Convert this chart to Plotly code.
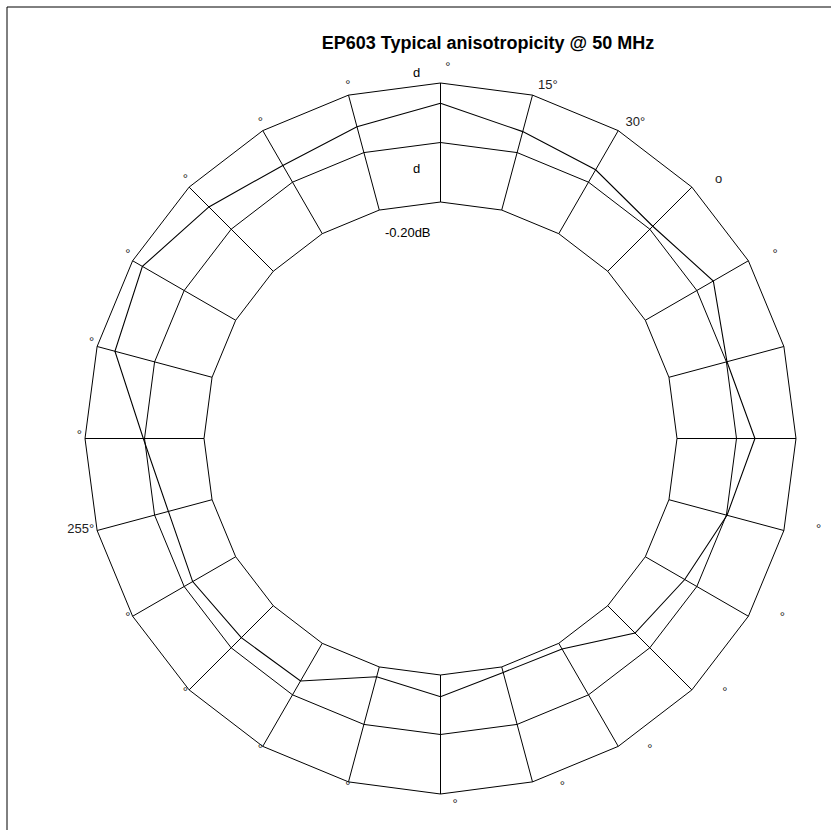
import plotly.graph_objects as go

# Measurement angles (deg, clockwise from top) and relative level in dB
angles = list(range(0, 360, 15))
level_db = [-0.034, -0.0635, -0.076, -0.093, -0.068, -0.099, -0.069, -0.099,
            -0.1235, -0.135, -0.189, -0.1905, -0.1635, -0.183, -0.127, -0.124,
            -0.1165, -0.124, -0.098, -0.031, -0.019, -0.047, -0.0675, -0.055]

# Angular labels; most print only the degree sign, figure spaces keep
# the width of the missing digits
FS = "\u2007"
angle_labels = [FS + "°", "15°", "30°", FS + FS + "o", FS + FS + "°", "", "",
                FS * 3 + "°", FS * 3 + "°", FS * 3 + "°", FS * 3 + "°",
                FS * 3 + "°", FS * 3 + "°", "°", "°", "°", "°",
                "255°", "°", "°", "°", "°", "°", "°"]

# Radial grid levels and their labels
radial_ticks = [-0.2, -0.1, 0.0]
radial_labels = ["-0.20dB", "d", "d"]

FONT = "Liberation Sans, Arial, sans-serif"
W, H = 838, 830

cats = [str(a) for a in angles]


def label_anchor(a):
    """Text anchoring of an angle label around its ring point."""
    if a == 0:
        return "top center"
    if a == 180:
        return "bottom center"
    return "middle right" if a < 180 else "middle left"


label_positions = [label_anchor(a) for a in angles]


def px_domain(cx, cy, rad):
    """Paper-space domain of a square polar area centred at (cx, cy) px."""
    return dict(x=[(cx - rad) / W, (cx + rad) / W],
                y=[1 - (cy + rad) / H, 1 - (cy - rad) / H])


fig = go.Figure()
fig.add_trace(go.Scatterpolar(
    r=level_db + level_db[:1],
    theta=cats + cats[:1],
    mode="lines",
    line=dict(color="black", width=1.1),
    showlegend=False,
    hoverinfo="skip",
    subplot="polar",
))
# Angle labels on a slightly wider, invisible ring around the chart
fig.add_trace(go.Scatterpolar(
    r=[1] * len(cats),
    theta=cats,
    mode="text",
    text=angle_labels,
    textposition=label_positions,
    textfont=dict(family=FONT, size=13, color="#222"),
    cliponaxis=False,
    showlegend=False,
    hoverinfo="skip",
    subplot="polar2",
))

hidden_axis = dict(showgrid=False, showline=False, showticklabels=False, ticks="")

fig.update_layout(
    width=W, height=H,
    margin=dict(l=0, r=0, t=0, b=0),
    paper_bgcolor="white",
    plot_bgcolor="white",
    font=dict(family=FONT, size=13, color="black"),
    title=dict(
        text="<b>EP603 Typical anisotropicity @ 50 MHz</b>",
        x=488 / W, xanchor="center", xref="paper",
        y=1 - 43 / H, yanchor="middle", yref="container",
        font=dict(family=FONT, size=18, color="black"),
    ),
    polar=dict(
        domain=px_domain(440.5, 438.5, 355.5),
        bgcolor="white",
        gridshape="linear",
        hole=236.5 / 355.5,
        radialaxis=dict(
            range=[radial_ticks[0], radial_ticks[-1]],
            tickvals=radial_ticks,
            showticklabels=False,
            ticks="",
            showline=False,
            gridcolor="black",
            gridwidth=1,
        ),
        angularaxis=dict(
            type="category",
            categoryorder="array",
            categoryarray=cats,
            direction="clockwise",
            rotation=90,
            showticklabels=False,
            ticks="",
            showline=True,
            linecolor="black",
            linewidth=1,
            gridcolor="black",
            gridwidth=1,
        ),
    ),
    polar2=dict(
        domain=px_domain(444.25, 436.25, 362.4),
        bgcolor="rgba(0,0,0,0)",
        gridshape="linear",
        radialaxis=dict(range=[0, 1], **hidden_axis),
        angularaxis=dict(
            type="category",
            categoryorder="array",
            categoryarray=cats,
            direction="clockwise",
            rotation=90,
            **hidden_axis,
        ),
    ),
    shapes=[
        dict(type="line", xref="paper", yref="paper",
             x0=7 / W, x1=831 / W, y0=1 - 7 / H, y1=1 - 7 / H,
             line=dict(color="black", width=1)),
        dict(type="line", xref="paper", yref="paper",
             x0=7 / W, x1=7 / W, y0=1 - 7 / H, y1=0,
             line=dict(color="black", width=1)),
    ],
)

# Radial level labels along the 0° spoke
label_pos = [(408.3, 232.7), (416.7, 168.3), (416.7, 73.0)]
for text, (px, py) in zip(radial_labels, label_pos):
    fig.add_annotation(
        text=text, x=px / W, y=1 - py / H, xref="paper", yref="paper",
        xanchor="center", yanchor="middle", showarrow=False,
        font=dict(family=FONT, size=13, color="black"),
    )

fig.write_html("out.html")
